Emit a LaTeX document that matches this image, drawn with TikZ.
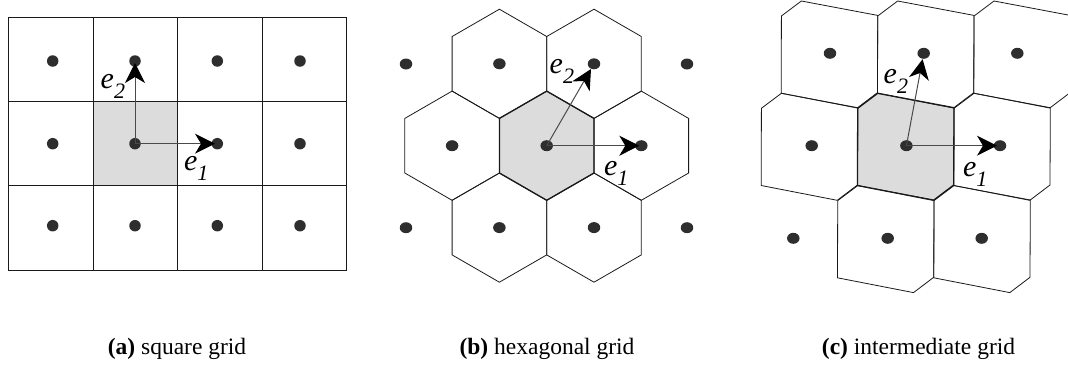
\documentclass[tikz,border=0pt]{standalone}
\usepackage{fontspec}
\setmainfont{Liberation Serif}
\usetikzlibrary{arrows.meta,shapes.geometric}
\definecolor{cellgray}{HTML}{DCDCDC}
\definecolor{dotgray}{HTML}{2E2E2E}
\definecolor{linegray}{HTML}{1A1A1A}
\definecolor{vecgray}{HTML}{4A4A4A}
\newcommand{\veclab}[2]{{\fontsize{30}{30}\selectfont\itshape #1\raisebox{-10pt}{\fontsize{22}{22}\selectfont #2}}}
\begin{document}
\begin{tikzpicture}[x=1pt,y=-1pt,
  dot/.style={ellipse,fill=dotgray,inner sep=0pt,minimum width=12.5pt,minimum height=11pt},
  sqdot/.style={circle,fill=dotgray,inner sep=0pt,minimum size=11.5pt},
  cellline/.style={draw=linegray,line width=1pt},
  hexline/.style={draw=linegray,line width=0.8pt},
  centerline/.style={draw=linegray,line width=1.3pt},
  vec/.style={draw=vecgray,line width=1pt,-{Stealth[length=20pt,width=20pt,inset=6pt,black]}},
  lab/.style={anchor=base west,inner sep=0pt},
  captext/.style={anchor=base,inner sep=0pt,font=\fontsize{23.5}{23.5}\selectfont}]
\useasboundingbox (0,0) rectangle (1068,365);
\begin{scope}
\clip (0,0) rectangle (1068,365);
% ---------------- (a) square grid ----------------
\fill[cellgray] (93,101.7) rectangle (177.5,185.9);
\draw[cellline] (8.5,17.5) rectangle (346.5,270.1);
\foreach \x in {93,177.5,262} \draw[cellline] (\x,17.5) -- (\x,270.1);
\foreach \y in {101.7,185.9} \draw[cellline] (8.5,\y) -- (346.5,\y);
\foreach \x [count=\i] in {52.7,135,217.3,300}
  \foreach \y [count=\j] in {61,143.7,225.7}
    \node[sqdot] (a\i\j) at (\x,\y) {};
\draw[vec,shorten >=2.3pt] (a22.center) -- (a32.center);
\draw[vec,shorten >=2pt] (a22.center) -- (a21.center);
\node[lab] (ae2) at (100.5,88.3) {\veclab{e}{2}};
\node[lab] (ae1) at (183.8,170) {\veclab{e}{1}};
% ---------------- (b) hexagonal grid ----------------
\begin{scope}[shift={(546.7,145.7)}]
\fill[cellgray] (0,-54.6) -- (47.3,-27.3) -- (47.3,27.3) -- (0,54.6) -- (-47.3,27.3) -- (-47.3,-27.3) -- cycle;
\foreach \dx/\dy in {94.6/0,-94.6/0,-47.3/-81.9,47.3/-81.9,-47.3/81.9,47.3/81.9}
  \draw[hexline,shift={(\dx,\dy)}] (0,-54.6) -- (47.3,-27.3) -- (47.3,27.3) -- (0,54.6) -- (-47.3,27.3) -- (-47.3,-27.3) -- cycle;
\draw[centerline] (0,-54.6) -- (47.3,-27.3) -- (47.3,27.3) -- (0,54.6) -- (-47.3,27.3) -- (-47.3,-27.3) -- cycle;
\node[dot] (bc) at (0,0) {};
\node[dot] (br) at (94.6,0) {};
\node[dot] (bl) at (-94.6,0) {};
\node[dot] (bul) at (-47.3,-81.9) {};
\node[dot] (bur) at (47.3,-81.9) {};
\node[dot] (bdl) at (-47.3,81.9) {};
\node[dot] (bdr) at (47.3,81.9) {};
\end{scope}
\node[dot] (bo1) at (406,64) {};
\node[dot] (bo2) at (687,64) {};
\node[dot] (bo3) at (406,227.7) {};
\node[dot] (bo4) at (687,227.7) {};
\draw[vec,shorten >=2pt] (bc.center) -- (br.center);
\draw[vec,shorten >=6pt] (bc.center) -- (bur.center);
\node[lab] (be2) at (549.5,73.3) {\veclab{e}{2}};
\node[lab] (be1) at (603.8,175) {\veclab{e}{1}};
% ---------------- (c) intermediate grid ----------------
\fill[cellgray] (857.7,108.3) -- (877.7,93.3) -- (954,107.7) -- (953.7,185) -- (933.5,200.3) -- (857.5,185.5) -- cycle;
\foreach \dx/\dy in {96.3/0,-96.3/0,-76.3/-92.3,20/-92.3,116.3/-92.3,-20/92.3,76.3/92.3}
  \draw[hexline,shift={(\dx,\dy)}] (857.7,108.3) -- (877.7,93.3) -- (954,107.7) -- (953.7,185) -- (933.5,200.3) -- (857.5,185.5) -- cycle;
\draw[centerline] (857.7,108.3) -- (877.7,93.3) -- (954,107.7) -- (953.7,185) -- (933.5,200.3) -- (857.5,185.5) -- cycle;
\node[dot] (ct1) at (830,53.3) {};
\node[dot] (ct2) at (923.7,53.3) {};
\node[dot] (ct3) at (1017.3,53.3) {};
\node[dot] (cm1) at (811.7,145.7) {};
\node[dot] (cm2) at (906.4,145.7) {};
\node[dot] (cm3) at (1000,145.7) {};
\node[dot] (cb1) at (793.3,238.3) {};
\node[dot] (cb2) at (887.7,238.3) {};
\node[dot] (cb3) at (981.7,238.3) {};
\draw[vec,shorten >=3pt] (cm2.center) -- (cm3.center);
\draw[vec,shorten >=6pt] (cm2.center) -- (ct2.center);
\node[lab] (ce2) at (883.5,83.3) {\veclab{e}{2}};
\node[lab] (ce1) at (962.8,176) {\veclab{e}{1}};
\end{scope}
% ---------------- captions ----------------
\node[captext] (capa) at (177,354) {\textbf{(a)} square grid};
\node[captext] (capb) at (547,354) {\textbf{(b)} hexagonal grid};
\node[captext] (capc) at (918.5,354) {\textbf{(c)} intermediate grid};
\end{tikzpicture}
\end{document}
